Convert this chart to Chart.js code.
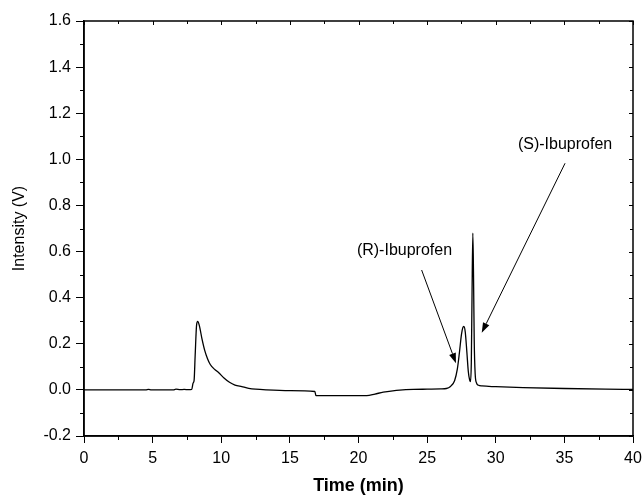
<!DOCTYPE html>
<html lang="en">
<head>
  <meta charset="UTF-8" />
  <title>Ibuprofen chromatogram</title>
  <script src="https://cdn.jsdelivr.net/npm/chart.js"></script>
  <style>
    html, body { margin: 0; padding: 0; background: #fff; }
    #wrap { width: 643px; height: 500px; }
  </style>
</head>
<body>
<div id="wrap"><canvas id="chrom"></canvas></div>
<script>
  // retention time (min) and detector signal (V)
  const timeMin = [
    0, 2, 4.5, 4.7, 4.9, 6.5, 6.7, 7.0, 7.3, 7.6, 7.85, 7.95, 8.02, 8.1, 8.2, 8.28,
    8.4, 8.6, 8.8, 9.0, 9.2, 9.5, 9.8, 10.2, 10.6, 11.0, 11.5, 12.0, 12.5, 13.3,
    15.0, 16.82, 16.9, 20.6, 21.2, 21.8, 22.5, 23.0, 24.0, 25.0, 26.0, 26.4,
    26.7, 27.0, 27.2, 27.35, 27.5, 27.6, 27.68, 27.78, 27.9, 28.0, 28.1, 28.16,
    28.22, 28.27, 28.33, 28.38, 28.43, 28.5, 28.6, 28.75, 29.0, 30.0, 32.0, 35.0, 38.0, 40.0
  ];
  const intensityV = [
    0, 0, 0, 0.002, 0, 0, 0.003, 0.001, 0.002, 0.001, 0.002, 0.03, 0.04, 0.15, 0.28, 0.297,
    0.28, 0.22, 0.17, 0.135, 0.11, 0.09, 0.075, 0.052, 0.033, 0.021, 0.014, 0.007, 0.003, 0.0,
    -0.003, -0.007, -0.025, -0.025, -0.018, -0.01, -0.004, -0.001, 0.002, 0.003, 0.004, 0.006,
    0.015, 0.04, 0.09, 0.16, 0.24, 0.27, 0.275, 0.25, 0.16, 0.08, 0.042, 0.036,
    0.12, 0.40, 0.68, 0.50, 0.22, 0.07, 0.03, 0.02, 0.017, 0.014, 0.01, 0.006, 0.003, 0.002
  ];

  const xTicks = [0, 5, 10, 15, 20, 25, 30, 35, 40];
  const yTicks = [-0.2, 0.0, 0.2, 0.4, 0.6, 0.8, 1.0, 1.2, 1.4, 1.6];
  const xMinorStep = 2.5;
  const yMinorStep = 0.1;

  // peak labels: text position and arrow (from -> to), in data units
  const labelText = ['(R)-Ibuprofen', '(S)-Ibuprofen'];
  const labelAt = [[23.35, 0.604], [35.05, 1.062]];
  const arrowFrom = [[24.6, 0.52], [35.05, 0.983]];
  const arrowTo = [[27.1, 0.116], [28.98, 0.248]];

  const FONT = "'Liberation Sans', Arial, sans-serif";

  const points = timeMin.map((t, i) => ({ x: t, y: intensityV[i] }));

  // frame on top/right, minor ticks, peak labels
  const framePlugin = {
    id: 'frame',
    afterDraw(chart) {
      const ctx = chart.ctx;
      const a = chart.chartArea;
      const xs = chart.scales.x, ys = chart.scales.y;
      ctx.save();
      ctx.strokeStyle = '#000';
      ctx.lineWidth = 1.5;
      ctx.strokeRect(a.left, a.top, a.right - a.left, a.bottom - a.top);

      ctx.lineWidth = 1;
      ctx.beginPath();
      for (let v = xs.min; v <= xs.max + 1e-9; v += xMinorStep) {
        const px = Math.round(xs.getPixelForValue(v)) + 0.5;
        const major = xTicks.some(t => Math.abs(t - v) < 1e-6);
        if (!major) { ctx.moveTo(px, a.bottom); ctx.lineTo(px, a.bottom + 4); }
        ctx.moveTo(px, a.top); ctx.lineTo(px, a.top + (major ? 4 : 3));
      }
      for (let v = ys.min; v <= ys.max + 1e-9; v += yMinorStep) {
        const py = Math.round(ys.getPixelForValue(v)) + 0.5;
        const major = yTicks.some(t => Math.abs(t - v) < 1e-6);
        if (!major) { ctx.moveTo(a.left - 4, py); ctx.lineTo(a.left, py); }
        ctx.moveTo(a.right, py); ctx.lineTo(a.right - (major ? 4 : 3), py);
      }
      ctx.stroke();

      ctx.fillStyle = '#000';
      ctx.font = '16px ' + FONT;
      ctx.textAlign = 'center';
      ctx.textBaseline = 'middle';
      labelText.forEach((txt, i) => {
        ctx.fillText(txt, xs.getPixelForValue(labelAt[i][0]), ys.getPixelForValue(labelAt[i][1]));
        const x0 = xs.getPixelForValue(arrowFrom[i][0]), y0 = ys.getPixelForValue(arrowFrom[i][1]);
        const x1 = xs.getPixelForValue(arrowTo[i][0]), y1 = ys.getPixelForValue(arrowTo[i][1]);
        const ang = Math.atan2(y1 - y0, x1 - x0);
        const len = 10, half = 3.5;
        ctx.beginPath();
        ctx.moveTo(x0, y0);
        ctx.lineTo(x1 - Math.cos(ang) * len, y1 - Math.sin(ang) * len);
        ctx.stroke();
        ctx.beginPath();
        ctx.moveTo(x1, y1);
        ctx.lineTo(x1 - Math.cos(ang) * len + Math.sin(ang) * half, y1 - Math.sin(ang) * len - Math.cos(ang) * half);
        ctx.lineTo(x1 - Math.cos(ang) * len - Math.sin(ang) * half, y1 - Math.sin(ang) * len + Math.cos(ang) * half);
        ctx.closePath();
        ctx.fill();
      });
      ctx.restore();
    }
  };

  new Chart(document.getElementById('chrom'), {
    type: 'line',
    data: {
      datasets: [{
        data: points,
        borderColor: '#000',
        borderWidth: 1.3,
        pointRadius: 0,
        fill: false,
        cubicInterpolationMode: 'monotone'
      }]
    },
    options: {
      responsive: true,
      maintainAspectRatio: false,
      animation: false,
      layout: { padding: { top: 21, right: 10, left: 0, bottom: 0 } },
      plugins: { legend: { display: false }, tooltip: { enabled: false } },
      scales: {
        x: {
          type: 'linear',
          min: 0, max: 40,
          afterFit(s) { s.height = 64; s.paddingLeft = 0; s.paddingRight = 0; },
          afterBuildTicks(s) { s.ticks = xTicks.map(v => ({ value: v })); },
          ticks: { color: '#000', font: { family: FONT, size: 16 }, padding: 6, maxRotation: 0 },
          grid: { drawOnChartArea: false, color: '#000', tickLength: 7, lineWidth: 1 },
          border: { display: true, color: '#000', width: 1.5 },
          title: { display: true, text: 'Time (min)', color: '#000', font: { family: FONT, size: 18, weight: 'bold' }, padding: { top: 0, bottom: 3 } }
        },
        y: {
          min: -0.2, max: 1.6,
          afterFit(s) { s.width = 84; s.paddingTop = 0; s.paddingBottom = 0; },
          afterBuildTicks(s) { s.ticks = yTicks.map(v => ({ value: v })); },
          ticks: { color: '#000', font: { family: FONT, size: 16 }, padding: 5, callback: v => v.toFixed(1) },
          grid: { drawOnChartArea: false, color: '#000', tickLength: 8, lineWidth: 1 },
          border: { display: true, color: '#000', width: 1.5 },
          title: { display: true, text: 'Intensity (V)', color: '#000', font: { family: FONT, size: 16 }, padding: { top: 10, bottom: 0 } }
        }
      }
    },
    plugins: [framePlugin]
  });
</script>
</body>
</html>
